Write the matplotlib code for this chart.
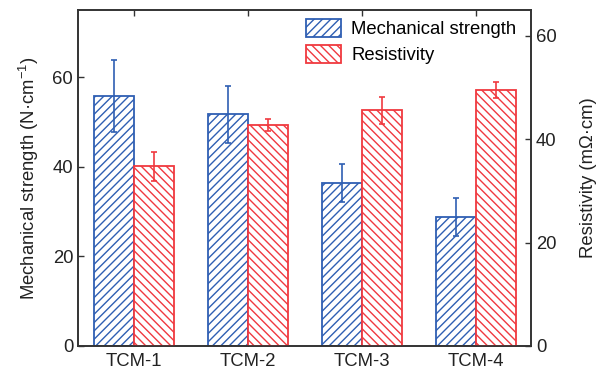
import matplotlib
matplotlib.use("Agg")
import matplotlib.pyplot as plt
import numpy as np

plt.rcParams['font.family'] = ['Liberation Sans', 'DejaVu Sans']
plt.rcParams['mathtext.default'] = 'regular'
plt.rcParams['hatch.linewidth'] = 1.0

# amostras e valores medidos
amostras = ["TCM-1", "TCM-2", "TCM-3", "TCM-4"]
resistencia = [55.8, 51.7, 36.4, 28.8]
resistencia_err = [8.0, 6.4, 4.2, 4.3]
resistividade = [34.8, 42.7, 45.6, 49.5]
resistividade_err = [2.8, 1.2, 2.6, 1.6]

azul = "#2f5fb3"
vermelho = "#f0393f"
cinza = "#333333"

fig = plt.figure(figsize=(6.02, 3.72), dpi=100)
ax = fig.add_axes([0.1296, 0.0699, 0.7524, 0.9032])
ax2 = ax.twinx()

x = np.arange(len(amostras))
w = 0.35

ax.bar(x - w / 2, resistencia, w, facecolor="white", edgecolor=azul,
       hatch="////", linewidth=1.3, label="Mechanical strength", zorder=2)
ax.errorbar(x - w / 2, resistencia, yerr=resistencia_err, fmt="none",
            ecolor=azul, elinewidth=1.2, capsize=2.5, capthick=1.2, zorder=3)

ax2.bar(x + w / 2, resistividade, w, facecolor="white", edgecolor=vermelho,
        hatch="\\\\\\\\", linewidth=1.3, label="Resistivity", zorder=2)
ax2.errorbar(x + w / 2, resistividade, yerr=resistividade_err, fmt="none",
             ecolor=vermelho, elinewidth=1.2, capsize=2.5, capthick=1.2, zorder=3)

ax.set_xlim(-0.49, 3.48)
ax.set_ylim(0, 75)
ax2.set_ylim(0, 65)
ax.set_xticks(x)
ax.set_xticklabels(amostras)
ax.set_yticks([0, 20, 40, 60])
ax2.set_yticks([0, 20, 40, 60])

ax.set_ylabel("Mechanical strength (N·cm$^{-1}$)", fontsize=13.3, color="#222222",
              labelpad=8)
ax2.set_ylabel("Resistivity (mΩ·cm)", fontsize=13.3, color="#222222", labelpad=17)

for a in (ax, ax2):
    a.tick_params(direction="in", length=4, width=1, colors=cinza,
                  labelsize=13.3, labelcolor="#222222")
    for s in a.spines.values():
        s.set_color(cinza)
        s.set_linewidth(1.2)
ax.tick_params(axis="x", top=True, pad=5)
ax.tick_params(axis="y", right=False)
ax2.tick_params(axis="y", left=False)

# legenda com as duas séries
h1, l1 = ax.get_legend_handles_labels()
h2, l2 = ax2.get_legend_handles_labels()
ax2.legend(h1 + h2, l1 + l2, loc="upper right", frameon=False, fontsize=13.3,
           handlelength=1.9, handleheight=1.1, handletextpad=0.55,
           labelspacing=0.35, borderaxespad=0.1, bbox_to_anchor=(0.988, 1.0))

fig.savefig("out.png", dpi=100)
